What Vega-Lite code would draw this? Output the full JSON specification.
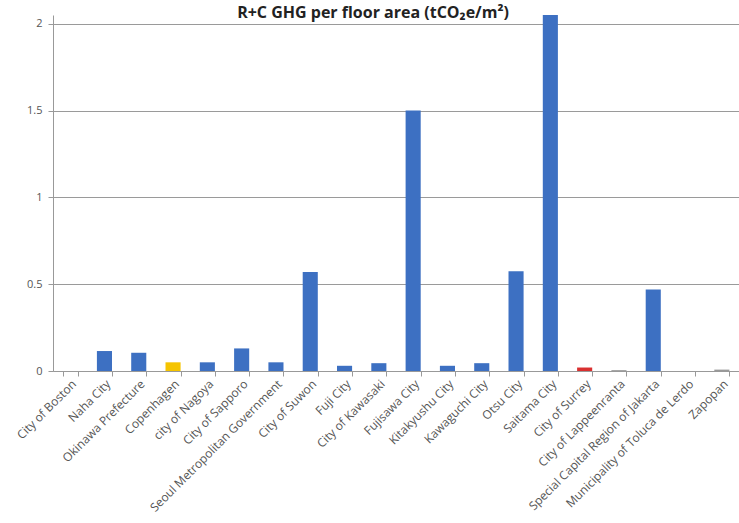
{
  "$schema": "https://vega.github.io/schema/vega-lite/v6.json",
  "width": 686,
  "height": 356,
  "autosize": "none",
  "padding": {"left": 53, "top": 15, "right": 0, "bottom": 152},
  "background": "white",
  "title": {
    "text": "R+C GHG per floor area (tCO₂e/m²)",
    "font": "Open Sans",
    "fontSize": 16,
    "fontWeight": "bold",
    "color": "#222222",
    "anchor": "middle",
    "dx": -23,
    "offset": -6
  },
  "data": {
    "values": [
      {"city": "City of Boston", "value": 0},
      {"city": "Naha City", "value": 0.115},
      {"city": "Okinawa Prefecture", "value": 0.105},
      {"city": "Copenhagen", "value": 0.05},
      {"city": "city of Nagoya", "value": 0.05},
      {"city": "City of Sapporo", "value": 0.13},
      {"city": "Seoul Metropolitan Government", "value": 0.05},
      {"city": "City of Suwon", "value": 0.57},
      {"city": "Fuji City", "value": 0.03},
      {"city": "City of Kawasaki", "value": 0.045},
      {"city": "Fujisawa City", "value": 1.5},
      {"city": "Kitakyushu City", "value": 0.03},
      {"city": "Kawaguchi City", "value": 0.045},
      {"city": "Otsu City", "value": 0.575},
      {"city": "Saitama City", "value": 2.05},
      {"city": "City of Surrey", "value": 0.02},
      {"city": "City of Lappeenranta", "value": 0.005},
      {"city": "Special Capital Region of Jakarta", "value": 0.47},
      {"city": "Municipality of Toluca de Lerdo", "value": 0},
      {"city": "Zapopan", "value": 0.008}
    ]
  },
  "mark": {"type": "bar"},
  "encoding": {
    "x": {
      "field": "city",
      "type": "nominal",
      "sort": null,
      "title": null,
      "scale": {"paddingInner": 0.56, "paddingOuter": 0.28},
      "axis": {
        "labelAngle": -45,
        "labelFont": "Open Sans",
        "labelFontSize": 12,
        "labelColor": "#555555",
        "tickBand": "extent",
        "domainColor": "#999999",
        "tickColor": "#999999",
        "tickSize": 5,
        "labelPadding": 2,
        "grid": false,
        "labelLimit": 300
      }
    },
    "y": {
      "field": "value",
      "type": "quantitative",
      "title": null,
      "scale": {"domain": [0, 2.05], "nice": false},
      "axis": {
        "values": [0, 0.5, 1, 1.5, 2],
        "format": "~g",
        "labelFont": "Open Sans",
        "labelFontSize": 11,
        "labelColor": "#555555",
        "gridColor": "#9a9a9a",
        "gridWidth": 1,
        "domainColor": "#999999",
        "tickColor": "#999999",
        "tickSize": 5,
        "labelPadding": 6
      }
    },
    "color": {
      "field": "city",
      "type": "nominal",
      "legend": null,
      "scale": {
        "domain": ["City of Boston", "Naha City", "Okinawa Prefecture", "Copenhagen", "city of Nagoya", "City of Sapporo", "Seoul Metropolitan Government", "City of Suwon", "Fuji City", "City of Kawasaki", "Fujisawa City", "Kitakyushu City", "Kawaguchi City", "Otsu City", "Saitama City", "City of Surrey", "City of Lappeenranta", "Special Capital Region of Jakarta", "Municipality of Toluca de Lerdo", "Zapopan"],
        "range": ["#3d70c2", "#3d70c2", "#3d70c2", "#f5c400", "#3d70c2", "#3d70c2", "#3d70c2", "#3d70c2", "#3d70c2", "#3d70c2", "#3d70c2", "#3d70c2", "#3d70c2", "#3d70c2", "#3d70c2", "#d93030", "#999999", "#3d70c2", "#999999", "#999999"]
      }
    }
  },
  "config": {"view": {"stroke": null}}
}
